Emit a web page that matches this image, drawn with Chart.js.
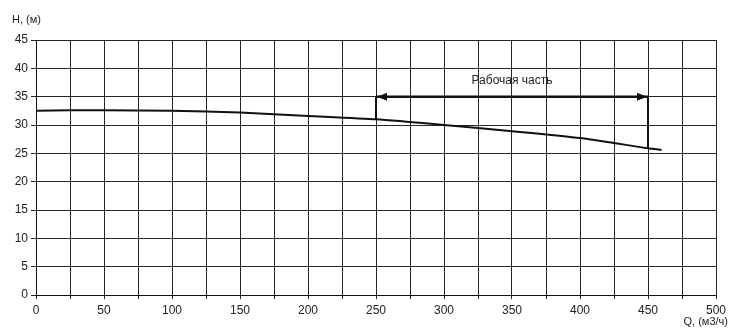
<!DOCTYPE html>
<html>
<head>
<meta charset="utf-8">
<script src="https://cdn.jsdelivr.net/npm/chart.js@4"></script>
<style>
  html, body { margin: 0; padding: 0; background: #fff; }
  #wrap { width: 741px; height: 330px; }
</style>
</head>
<body>
<div id="wrap"><canvas id="pumpChart" width="741" height="330"></canvas></div>
<script>
// напор-расход (Q, м3/ч -> H, м)
var flowQ = [0, 25, 50, 100, 150, 200, 250, 300, 350, 400, 450, 460];
var headH = [32.5, 32.6, 32.6, 32.5, 32.2, 31.6, 31.0, 30.0, 28.9, 27.7, 25.9, 25.6];

// рабочая часть
var workQ = [250, 450];
var workTopH = 35;
var workBottomH = [31.0, 25.9];
var workLabel = 'Рабочая часть';
var workLabelH = 37.8;

var xTitle = 'Q, (м3/ч)';
var yTitle = 'H, (м)';

var lineColor = '#111';
var gridColor = '#262626';
var font = 'Liberation Sans, Arial, sans-serif';

function toPoints(xs, ys) {
    var pts = [];
    for (var i = 0; i < xs.length; i++) pts.push({ x: xs[i], y: ys[i] });
    return pts;
}

var extras = {
    id: 'extras',
    afterDatasetsDraw: function(chart) {
        var c = chart.ctx;
        var xs = chart.scales.x, ys = chart.scales.y;
        var x1 = xs.getPixelForValue(workQ[0]), x2 = xs.getPixelForValue(workQ[1]);
        var yt = ys.getPixelForValue(workTopH);
        c.save();
        c.fillStyle = lineColor;
        // стрелки
        c.beginPath();
        c.moveTo(x1 + 1, yt); c.lineTo(x1 + 11, yt - 4); c.lineTo(x1 + 11, yt + 4); c.closePath();
        c.moveTo(x2 - 1, yt); c.lineTo(x2 - 11, yt - 4); c.lineTo(x2 - 11, yt + 4); c.closePath();
        c.fill();
        // подпись
        c.font = '12px ' + font;
        c.textAlign = 'center';
        c.textBaseline = 'middle';
        c.fillStyle = '#222';
        c.fillText(workLabel, xs.getPixelForValue((workQ[0] + workQ[1]) / 2), ys.getPixelForValue(workLabelH));
        // названия осей
        c.font = '11px ' + font;
        c.textAlign = 'left';
        c.fillText(yTitle, 12, 20);
        c.textAlign = 'right';
        c.fillText(xTitle, 728, 322);
        c.restore();
    }
};

var ctx = document.getElementById('pumpChart').getContext('2d');
var chart = new Chart(ctx, {
    type: 'scatter',
    data: {
        datasets: [
            {
                data: toPoints(flowQ, headH),
                showLine: true,
                borderColor: lineColor,
                borderWidth: 2,
                pointRadius: 0,
                tension: 0.2
            },
            {
                data: toPoints(workQ, [workTopH, workTopH]),
                showLine: true,
                borderColor: lineColor,
                borderWidth: 2.5,
                pointRadius: 0
            },
            {
                data: toPoints([workQ[0], workQ[0]], [workTopH, workBottomH[0]]),
                showLine: true,
                borderColor: lineColor,
                borderWidth: 2,
                pointRadius: 0
            },
            {
                data: toPoints([workQ[1], workQ[1]], [workTopH, workBottomH[1]]),
                showLine: true,
                borderColor: lineColor,
                borderWidth: 2,
                pointRadius: 0
            }
        ]
    },
    options: {
        responsive: false,
        animation: false,
        layout: { padding: { top: 40, right: 25, left: 0, bottom: 0 } },
        plugins: { legend: { display: false }, tooltip: { enabled: false } },
        scales: {
            x: {
                type: 'linear',
                min: 0,
                max: 500,
                afterFit: function(s) { s.height = 35; },
                grid: { color: gridColor, lineWidth: 1, tickLength: 4 },
                border: { color: '#111', width: 1 },
                ticks: {
                    stepSize: 25,
                    maxRotation: 0,
                    autoSkip: false,
                    color: '#222',
                    font: { family: font, size: 12 },
                    padding: 4,
                    callback: function(v) { return v % 50 === 0 ? v : ''; }
                }
            },
            y: {
                min: 0,
                max: 45,
                afterFit: function(s) { s.width = 36; },
                grid: { color: gridColor, lineWidth: 1, tickLength: 5 },
                border: { color: '#111', width: 1 },
                ticks: {
                    stepSize: 5,
                    color: '#222',
                    font: { family: font, size: 12 },
                    padding: 3
                }
            }
        }
    },
    plugins: [extras]
});
</script>
</body>
</html>
